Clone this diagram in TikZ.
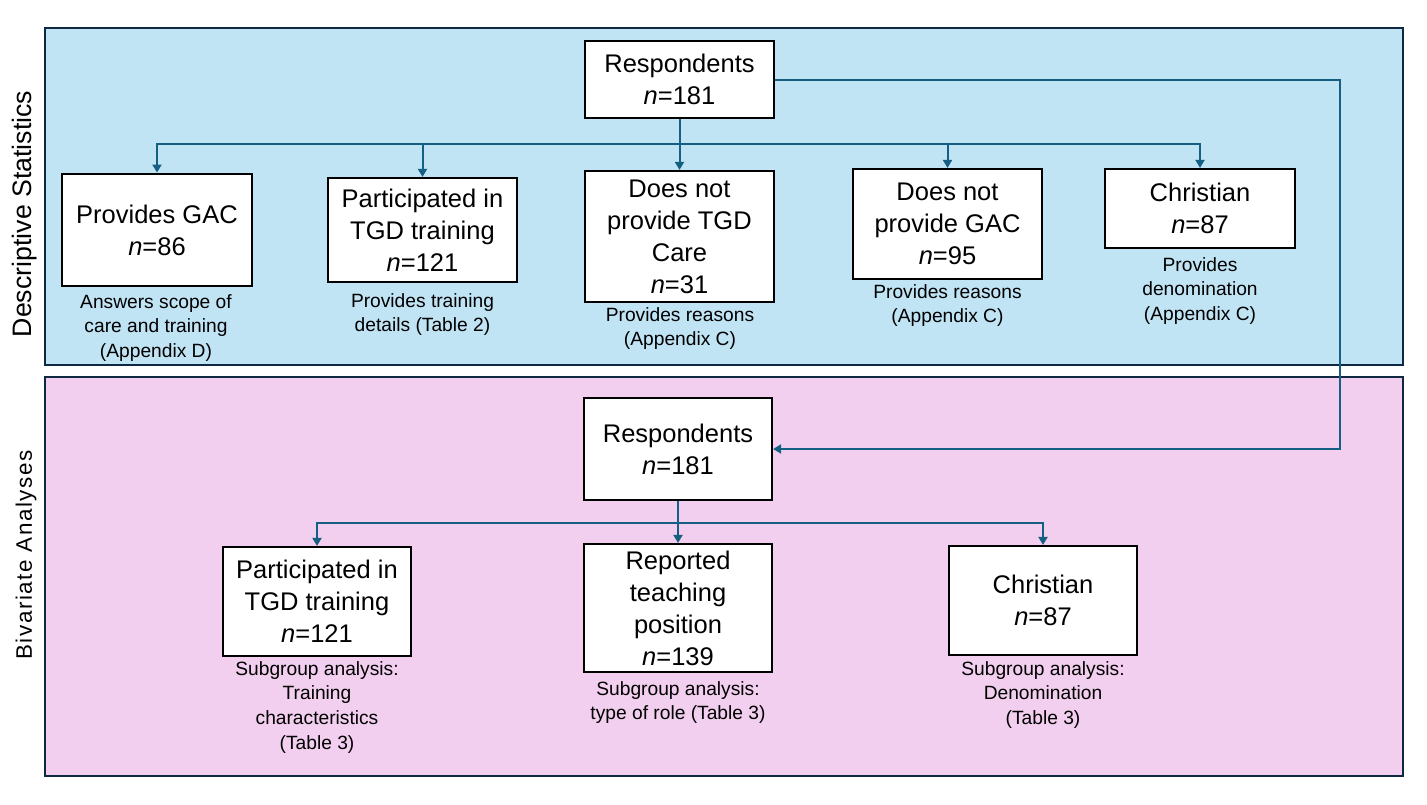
\documentclass[tikz,border=0pt]{standalone}
\usepackage{fontspec}
\setmainfont{Liberation Sans}
\newfontfamily\spacedfont[LetterSpace=7]{Liberation Sans}
\usetikzlibrary{arrows.meta}
\definecolor{panelblue}{HTML}{C1E4F5}
\definecolor{panelpink}{HTML}{F2CFEE}
\definecolor{navy}{HTML}{0E2841}
\definecolor{conncol}{HTML}{156082}
\begin{document}
\begin{tikzpicture}[x=0.5pt,y=-0.5pt,
  box/.style={draw=black,line width=1.1pt,fill=white,align=center,inner sep=0pt,
    font=\fontsize{12.75}{16}\selectfont},
  note/.style={align=center,inner sep=0pt,anchor=north,font=\fontsize{9.6}{12.3}\selectfont},
  conn/.style={draw=conncol,line width=1pt},
  arr/.style={conn,-{Triangle[width=4.5pt,length=4pt]}},
  panel/.style={draw=navy,line width=1.1pt},
  side/.style={rotate=90,inner sep=0pt}]
\useasboundingbox (0,0) rectangle (1427,804);
% panels
\draw[panel,fill=panelblue] (45,28) rectangle (1403,365);
\draw[panel,fill=panelpink] (45,377) rectangle (1403,776);
\node[side,font=\fontsize{13.35}{16}\selectfont] (lab1) at (25,214) {Descriptive Statistics};
\node[side,font=\fontsize{11.2}{14}\spacedfont] (lab2) at (26,555) {Bivariate Analyses};
% top boxes
\node[box,minimum width=94.5pt,minimum height=38.5pt] (r1) at (679.5,79.5) {Respondents\\\textit{n}=181};
\node[box,line width=1.45pt,minimum width=95pt,minimum height=56pt] (gac) at (157,230) {Provides GAC\\\textit{n}=86};
\node[box,minimum width=94.5pt,minimum height=52pt] (part) at (422.5,230) {Participated in\\TGD training\\\textit{n}=121};
\node[box,minimum width=94.5pt,minimum height=65.5pt] (tgd) at (679.5,236.5) {Does not\\provide TGD\\Care\\\textit{n}=31};
\node[box,minimum width=94.5pt,minimum height=55pt] (ngac) at (947.5,224) {Does not\\provide GAC\\\textit{n}=95};
\node[box,minimum width=95pt,minimum height=39.5pt] (chr) at (1200,208.5) {Christian\\\textit{n}=87};
% bottom boxes
\node[box,minimum width=94pt,minimum height=51pt] (r2) at (678,449) {Respondents\\\textit{n}=181};
\node[box,minimum width=94pt,minimum height=54.5pt] (p2) at (317,601.5) {Participated in\\TGD training\\\textit{n}=121};
\node[box,minimum width=94pt,minimum height=64pt] (rep) at (678,608) {Reported\\teaching\\position\\\textit{n}=139};
\node[box,minimum width=94pt,minimum height=54.5pt] (c2) at (1043,600.5) {Christian\\\textit{n}=87};
% notes
\node[note] (n1) at (156,294) {Answers scope of\\care and training\\(Appendix D)};
\node[note] (n2) at (422.5,293) {Provides training\\details (Table 2)};
\node[note] (n3) at (680,307) {Provides reasons\\(Appendix C)};
\node[note] (n4) at (947.5,284) {Provides reasons\\(Appendix C)};
\node[note] (n5) at (1200,257) {Provides\\denomination\\(Appendix C)};
\node[note] (n6) at (317,661) {Subgroup analysis:\\Training\\characteristics\\(Table 3)};
\node[note] (n7) at (678,681) {Subgroup analysis:\\type of role (Table 3)};
\node[note] (n8) at (1043,661) {Subgroup analysis:\\Denomination\\(Table 3)};
% connectors
\coordinate (j1) at (679.5,144);
\coordinate (j2) at (678,523);
\coordinate (bend) at (1340,300);
\draw[conn] (r1.south) -- (j1);
\draw[arr] (j1) -| (gac.north);
\draw[arr] (j1) -| (part.north);
\draw[arr] (j1) -- (tgd.north);
\draw[arr] (j1) -| (ngac.north);
\draw[arr] (j1) -| (chr.north);
\draw[arr] (r1.east) -| (bend) |- (r2.east);
\draw[conn] (r2.south) -- (j2);
\draw[arr] (j2) -| (p2.north);
\draw[arr] (j2) -- (rep.north);
\draw[arr] (j2) -| (c2.north);
\end{tikzpicture}
\end{document}
